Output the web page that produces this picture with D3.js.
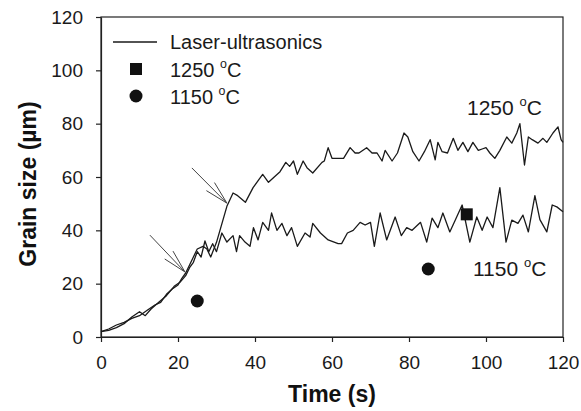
<!DOCTYPE html>
<html>
<head>
<meta charset="utf-8">
<script src="https://cdnjs.cloudflare.com/ajax/libs/d3/7.8.5/d3.min.js"></script>
<style>
body{ margin:0; padding:0; background:#fff; }
svg{ display:block; font-family:"Liberation Sans", Arial, sans-serif; }
.axis text{ font-size:19px; fill:#1a1a1a; }
.axis path, .axis line{ stroke:#222; stroke-width:1.2; }
</style>
</head>
<body>
<div id="chart"></div>
<script>
// laser-ultrasonics grain size, [time s, size um]
var lus1250 = [[0,2],[2,3],[4,4.5],[6,5.5],[8,7],[10,8],[12,10],[14,12],[15.5,13],[17,16],[18.5,18],[20,19.5],
  [21,22],[22,24],[23,27],[24,30],[25,33],[26.5,34],[27.5,33],[28.5,30],[30,35.5],[31.5,43],[32.7,49],[34.3,54],
  [35.5,53],[37.5,50.5],[39.5,56],[41,59],[42,61],[43.5,58],[45,60],[46.5,62],[48,65.5],[49,64],[50,66],[51,61],
  [52.5,66],[53.5,63.5],[55,61.5],[57.4,65.5],[58,66],[59,71],[60,67],[63,67],[64.7,71],[66,69],[67,69],[69,71],
  [70.4,69],[71.7,69],[73,66],[73.8,70],[75.6,66],[77,69],[78.7,76.5],[79.7,75],[81,69.5],[82.6,66],[84,69.5],
  [85.5,74],[86.8,66.4],[87.5,73],[88.6,69.5],[90,69],[91.5,74.5],[92.7,70],[94,73],[95.3,69.5],[96.6,73],
  [98,70],[99,70.5],[100,71],[101,69],[102.3,67],[103.6,70],[105.4,75],[106.7,72.7],[108,76.5],[108.8,80],
  [110,64.5],[111,75],[112,74],[113.5,72.7],[114.8,74.5],[115.8,73],[117.4,76.5],[118.7,78.8],[119.5,74],[120,73]];
var lus1150 = [[0,2],[2,2.5],[4,3.5],[6,5],[8,7.5],[10,9.5],[11.5,8],[13,10.5],[15,13],[17,15.5],[19,19],[20.5,20.5],
  [22,23],[23,26],[24,28],[25,32],[26,30],[27,36],[28,32],[29,35],[30,32],[31.4,39],[32.7,35.6],[34.3,38],[35.2,32],
  [36,38],[37.4,35.6],[38.7,34],[39.6,41],[40.8,36.4],[42,43],[43.5,40],[44.3,46.5],[45.7,40],[47,42.6],[48.3,38],
  [49.5,41],[51,34],[53,39],[54.3,37.5],[55,42.6],[57,39],[59,36.4],[61.6,35],[62.5,35],[64,39],[65.5,40],[67.3,43],
  [68.6,42],[70,43],[71,34],[72.5,46.5],[74.2,36.4],[76.4,45],[78,38],[79.4,41],[80.8,40],[83,43],[84.6,35.6],
  [86,44.6],[87.5,41],[88.8,46.5],[90.6,39.4],[92,43.8],[93.8,49.5],[95.8,35.6],[97.6,45],[99,40],[100.3,45],
  [101.8,41],[103.6,56],[105.2,35.6],[106.7,43.8],[108.3,42.6],[109.6,45.7],[111,39.4],[112.7,53],[114,44],
  [115.8,39.4],[117.2,49.5],[118.4,48.8],[120,47]];
// measured (metallography) points
var meas1250 = [[95,46]];
var meas1150 = [[25,13.5],[85,25.5]];
// arrows [x0,y0,x1,y1] in data units
var arrows = [[12.7,38.2,21.8,24.4],[23.6,63.4,32.7,50.2]];
var xTicks = [0,20,40,60,80,100,120];
var yTicks = [0,20,40,60,80,100,120];

var W = 581, H = 411;
var svg = d3.select("#chart").append("svg").attr("width", W).attr("height", H);
svg.append("rect").attr("width", W).attr("height", H).attr("fill", "#fff");

var x = d3.scaleLinear().domain([0,120]).range([101,563]);
var y = d3.scaleLinear().domain([0,120]).range([337,17]);

svg.append("g").attr("class","axis").attr("transform","translate(0,337)")
  .call(d3.axisBottom(x).tickValues(xTicks).tickSize(5).tickSizeOuter(0).tickPadding(14));
svg.append("g").attr("class","axis").attr("transform","translate(101,0)")
  .call(d3.axisLeft(y).tickValues(yTicks).tickSize(5).tickSizeOuter(0).tickPadding(13));

// frame
svg.append("rect").attr("x",101).attr("y",17).attr("width",462).attr("height",320)
  .attr("fill","none").attr("stroke","#222").attr("stroke-width",1.2);

var line = d3.line().x(function(d){return x(d[0]);}).y(function(d){return y(d[1]);});
[lus1250, lus1150].forEach(function(s){
  svg.append("path").attr("d", line(s)).attr("fill","none")
    .attr("stroke","#1a1a1a").attr("stroke-width",1.3).attr("stroke-linejoin","round");
});

svg.selectAll("rect.m").data(meas1250).enter().append("rect").attr("class","m")
  .attr("x",function(d){return x(d[0])-6;}).attr("y",function(d){return y(d[1])-6;})
  .attr("width",12).attr("height",12).attr("fill","#111");
svg.selectAll("circle.m").data(meas1150).enter().append("circle").attr("class","m")
  .attr("cx",function(d){return x(d[0]);}).attr("cy",function(d){return y(d[1]);})
  .attr("r",6.5).attr("fill","#111");

// arrows with open heads
arrows.forEach(function(a){
  var x0 = x(a[0]), y0 = y(a[1]), x1 = x(a[2]), y1 = y(a[3]);
  var ang = Math.atan2(y1-y0, x1-x0), L = 24, da = 0.24;
  var g = svg.append("g").attr("stroke","#444").attr("stroke-width",1).attr("fill","none");
  g.append("line").attr("x1",x0).attr("y1",y0).attr("x2",x1).attr("y2",y1);
  [-da, da].forEach(function(o){
    g.append("line").attr("x1",x1 - L*Math.cos(ang+o)).attr("y1",y1 - L*Math.sin(ang+o))
      .attr("x2",x1).attr("y2",y1);
  });
});

function degLabel(xp, yp, num, size){
  var t = svg.append("text").attr("x",xp).attr("y",yp).attr("font-size",size).attr("fill","#1a1a1a");
  t.append("tspan").text(num + " ");
  t.append("tspan").text("o").attr("font-size", size*0.62).attr("dy", -size*0.45);
  t.append("tspan").text("C").attr("dy", size*0.45);
  return t;
}

// legend
svg.append("line").attr("x1",113).attr("x2",157).attr("y1",42).attr("y2",42)
  .attr("stroke","#1a1a1a").attr("stroke-width",1.3);
svg.append("text").attr("x",170).attr("y",49).attr("font-size",20).attr("fill","#1a1a1a").text("Laser-ultrasonics");
svg.append("rect").attr("x",130).attr("y",63).attr("width",12).attr("height",12).attr("fill","#111");
degLabel(170, 77, "1250", 20);
svg.append("circle").attr("cx",136).attr("cy",96).attr("r",6.5).attr("fill","#111");
degLabel(170, 104, "1150", 20);

// curve labels
degLabel(467, 115, "1250", 21);
degLabel(473, 276, "1150", 21);

// axis titles
svg.append("text").attr("x",332).attr("y",402).attr("text-anchor","middle")
  .attr("font-size",23).attr("font-weight","bold").attr("fill","#111").text("Time (s)");
svg.append("text").attr("transform","translate(36,184) rotate(-90)").attr("text-anchor","middle")
  .attr("font-size",23).attr("font-weight","bold").attr("fill","#111").text("Grain size (\u00b5m)");
</script>
</body>
</html>
